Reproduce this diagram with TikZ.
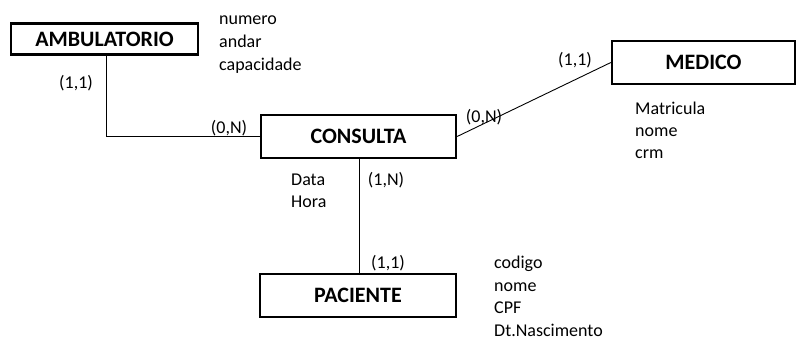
\documentclass[tikz,border=0pt]{standalone}
\usepackage{fontspec}
\setmainfont{Carlito}
\begin{document}
\begin{tikzpicture}[x=1pt,y=-1pt,
  entity/.style={draw=black, line width=2.3pt, inner sep=0pt, font=\fontsize{22}{26}\selectfont\bfseries},
  conn/.style={draw=black, line width=0.9pt},
  lbl/.style={inner sep=0pt, font=\fontsize{18}{22}\selectfont},
  attr/.style={inner sep=0pt, anchor=base west, font=\fontsize{18}{22}\selectfont}]
\useasboundingbox (0,0) rectangle (798,340);
% entities
\node[entity, minimum width=187pt, minimum height=31pt] (amb) at (104.5,39) {AMBULATORIO};
\node[entity, minimum width=195pt, minimum height=43pt] (con) at (358.5,136.5) {CONSULTA};
\node[entity, minimum width=183pt, minimum height=43pt] (med) at (703.5,62.5) {MEDICO};
\node[entity, minimum width=196pt, minimum height=43pt] (pac) at (358,295.5) {PACIENTE};
% connectors
\draw[conn] ([xshift=1.5pt]amb.south) |- (con.west);
\draw[conn] (con.east) -- (med.west);
\draw[conn] ([xshift=0.5pt]con.south) -- ([xshift=1pt]pac.north);
% cardinalities
\node[lbl] (c1) at (76,83) {(1,1)};
\node[lbl] (c2) at (229,128) {(0,N)};
\node[lbl] (c3) at (386,180) {(1,N)};
\node[lbl] (c4) at (484,117) {(0,N)};
\node[lbl] (c5) at (575,60) {(1,1)};
\node[lbl] (c6) at (388,263) {(1,1)};
% attributes
\node[attr] (a1) at (219,24) {numero};
\node[attr] (a2) at (219,47) {andar};
\node[attr] (a3) at (219,70) {capacidade};
\node[attr] (m1) at (635,114) {Matricula};
\node[attr] (m2) at (635,136) {nome};
\node[attr] (m3) at (635,158) {crm};
\node[attr] (p1) at (494,268) {codigo};
\node[attr] (p2) at (494,291) {nome};
\node[attr] (p3) at (494,313) {CPF};
\node[attr] (p4) at (494,336) {Dt.Nascimento};
\node[attr] (d1) at (291,185) {Data};
\node[attr] (d2) at (291,207) {Hora};
\end{tikzpicture}
\end{document}
